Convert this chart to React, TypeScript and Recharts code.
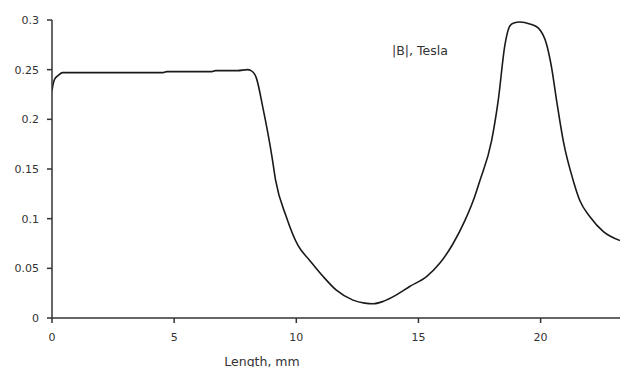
import React from 'react';
import { LineChart, Line, XAxis, YAxis, Customized, Label } from 'recharts';

const lengthMm = [0, 0.05, 0.12, 0.25, 0.43, 1.5, 3, 4.5, 4.7, 6.5, 6.7, 7.6, 8.0, 8.15, 8.36, 8.63, 9.0, 9.15, 9.59, 10.07, 10.55, 11.09, 11.64, 12.32, 12.8, 13.14, 13.55, 14.1, 14.64, 15.33, 15.87, 16.42, 16.9, 17.24, 17.51, 17.99, 18.26, 18.54, 18.74, 18.9, 19.15, 19.56, 19.9, 20.25, 20.45, 20.66, 20.93, 21.34, 21.61, 22.02, 22.57, 23.25];
const fieldTesla = [0.229, 0.236, 0.241, 0.244, 0.247, 0.247, 0.247, 0.247, 0.248, 0.248, 0.249, 0.249, 0.25, 0.249, 0.242, 0.212, 0.163, 0.139, 0.102, 0.073, 0.058, 0.042, 0.028, 0.018, 0.015, 0.0143, 0.0167, 0.0233, 0.0317, 0.0417, 0.055, 0.075, 0.098, 0.118, 0.138, 0.178, 0.218, 0.275, 0.294, 0.297, 0.298, 0.296, 0.292, 0.275, 0.252, 0.218, 0.178, 0.138, 0.118, 0.102, 0.087, 0.078];
const xTicks = [0, 5, 10, 15, 20];
const yTicks = [0, 0.05, 0.1, 0.15, 0.2, 0.25, 0.3];

const data = lengthMm.map((x, i) => ({ x, b: fieldTesla[i] }));

const font = '"DejaVu Sans", Verdana, sans-serif';

const Title = () => (
  <text x={392} y={55} fontFamily={font} fontSize={12.5} fill="#333">|B|, Tesla</text>
);

export default function App() {
  return (
    <div style={{ position: 'absolute', left: 0, top: 0, width: 620, height: 367 }}>
      <LineChart width={620} height={367} data={data} margin={{ top: 20, right: 0, bottom: 0, left: 0 }}>
        <XAxis
          dataKey="x"
          type="number"
          domain={[0, 23.25]}
          ticks={xTicks}
          allowDataOverflow
          height={49}
          tickSize={5}
          tickMargin={10}
          stroke="#333"
          strokeWidth={1.5}
          tick={{ fill: '#333', fontSize: 11, fontFamily: font }}
        >
          <Label value="Length, mm" position="insideBottom" offset={0} dx={-74} dy={-1} fill="#333" fontSize={12.5} fontFamily={font} />
        </XAxis>
        <YAxis
          type="number"
          domain={[0, 0.3]}
          ticks={yTicks}
          width={52}
          tickSize={5}
          tickMargin={8}
          stroke="#333"
          strokeWidth={1.5}
          tick={{ fill: '#333', fontSize: 11, fontFamily: font }}
        />
        <Line type="monotone" dataKey="b" stroke="#1a1a1a" strokeWidth={1.6} dot={false} isAnimationActive={false} />
        <Customized component={Title} />
      </LineChart>
    </div>
  );
}
